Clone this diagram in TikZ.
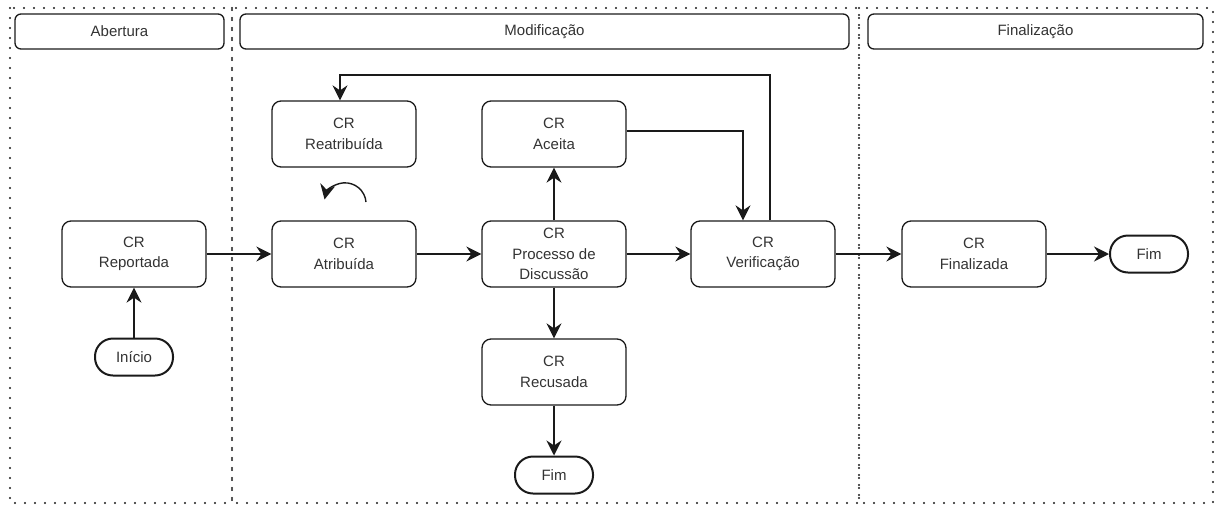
\documentclass[tikz,border=0pt]{standalone}
\usepackage{fontspec}
\setmainfont{Liberation Sans}
\usetikzlibrary{arrows.meta}
\definecolor{txt}{HTML}{333333}
\definecolor{ln}{HTML}{1A1A1A}
\begin{document}
\begin{tikzpicture}[x=1pt,y=-1pt,
  every node/.style={text=txt,font=\fontsize{15}{20.5}\selectfont},
  box/.style={draw=ln,line width=1.3pt,rounded corners=9pt,minimum width=144pt,minimum height=66pt,align=center,inner sep=0pt},
  term/.style={draw=ln,line width=2pt,rounded corners=18pt,minimum width=78pt,minimum height=37pt,inner sep=0pt},
  hdr/.style={draw=ln,line width=1.3pt,rounded corners=6pt,minimum height=35pt,inner sep=0pt},
  arr/.style={draw=ln,line width=1.4pt,-{Stealth[length=15pt,width=15pt,inset=5pt]}},
  frame/.style={draw=ln,line width=2.2pt,line cap=round,dash pattern=on 0pt off 10pt}]
\useasboundingbox (0,0) rectangle (1216,507);
% frames
\draw[frame] (10,8) rectangle (232,503);
\draw[frame] (232,8) rectangle (859,503);
\draw[frame] (859,8) rectangle (1213,503);
% headers
\node[hdr,minimum width=209pt] (h1) at (119.5,31.5) {Abertura};
\node[hdr,minimum width=609pt] (h2) at (544.5,31.5) {Modificação};
\node[hdr,minimum width=335pt] (h3) at (1035.5,31.5) {Finalização};
% nodes
\node[box] (rep) at (134,254) {CR\\Reportada};
\node[box] (atr) at (344,254) {CR\\Atribuída};
\node[box] (rea) at (344,134) {CR\\Reatribuída};
\node[box] (acc) at (554,134) {CR\\Aceita};
\node[box] (proc) at (554,254) {CR\\Processo de\\Discussão};
\node[box] (rec) at (554,372) {CR\\Recusada};
\node[box] (ver) at (763,254) {CR\\Verificação};
\node[box] (fin) at (974,254) {CR\\Finalizada};
\node[term] (ini) at (134,357) {Início};
\node[term] (fim1) at (554,475) {Fim};
\node[term] (fim2) at (1149,254) {Fim};
\coordinate (topy) at (0,75);
% connectors
\draw[arr] (rep) -- (atr);
\draw[arr] (atr) -- (proc);
\draw[arr] (proc) -- (ver);
\draw[arr] (ver) -- (fin);
\draw[arr] (fin) -- (fim2);
\draw[arr] (proc) -- (acc);
\draw[arr] (proc) -- (rec);
\draw[arr] (rec) -- (fim1);
\draw[arr] (ini) -- (rep);
\draw[arr] ([yshift=3pt]acc.east) -| ([xshift=-20pt]ver.north);
\draw[arr] ([xshift=7pt]ver.north) |- ([xshift=-4pt]rea.north |- topy) -- ([xshift=-4pt]rea.north);
\draw[arr] (366,202) arc[start angle=-5,end angle=-168,radius=21];
\end{tikzpicture}
\end{document}
